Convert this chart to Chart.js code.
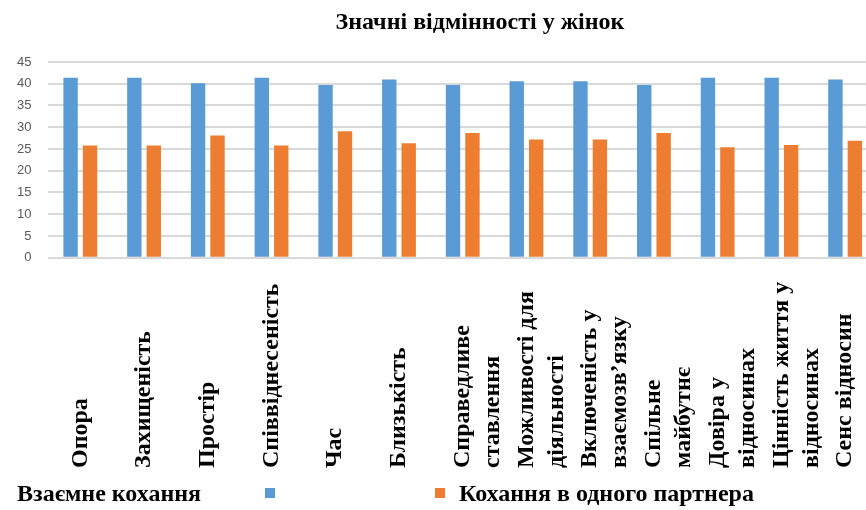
<!DOCTYPE html>
<html>
<head>
<meta charset="utf-8">
<script src="https://cdn.jsdelivr.net/npm/chart.js@4/dist/chart.umd.min.js"></script>
<style>
  html, body { margin: 0; padding: 0; background: #fff; overflow: hidden; width: 866px; height: 510px; }
  #wrap { position: relative; width: 866px; height: 510px; overflow: hidden; }
  #c { position: absolute; left: 0; top: 0; }
  .serif { font-family: 'Liberation Serif', 'Times New Roman', serif; font-weight: bold; color: #000; font-size: 24px; position: absolute; white-space: nowrap; line-height: 1; }
  #title { left: 0; width: 960px; text-align: center; top: 9px; }
  .sw { position: absolute; width: 10px; height: 10px; }
</style>
</head>
<body>
<div id="wrap">
  <canvas id="c" width="900" height="510" style="width:900px;height:510px"></canvas>
  <div id="title" class="serif"></div>
  <div id="leg1" class="serif" style="left:17px;top:481px"></div>
  <div class="sw" id="sw1" style="left:265px;top:488px"></div>
  <div class="sw" id="sw2" style="left:435px;top:488px"></div>
  <div id="leg2" class="serif" style="left:459px;top:481px"></div>
</div>
<script>
const chartTitle = 'Значні відмінності у жінок';
const categories = [
  'Опора',
  'Захищеність',
  'Простір',
  'Співвіднесеність',
  'Час',
  'Близькість',
  ['Справедливе', 'ставлення'],
  ['Можливості для', 'діяльності'],
  ['Включеність у', 'взаємозв\u2019язку'],
  ['Спільне', 'майбутнє'],
  ['Довіра у', 'відносинах'],
  ['Цінність життя у', 'відносинах'],
  'Сенс відносин'
];
const seriesNames = ['Взаємне кохання', 'Кохання в одного партнера'];
const mutualLove = [41.4, 41.4, 40.1, 41.4, 39.7, 41.0, 39.7, 40.6, 40.6, 39.7, 41.4, 41.4, 41.0];
const oneSidedLove = [25.8, 25.8, 28.1, 25.8, 29.1, 26.3, 28.7, 27.2, 27.2, 28.7, 25.4, 25.9, 26.9];
const yTicks = [0, 5, 10, 15, 20, 25, 30, 35, 40, 45];
const seriesColors = ['#5B9BD5', '#ED7D31'];

document.getElementById('title').textContent = chartTitle;
document.getElementById('leg1').textContent = seriesNames[0];
document.getElementById('leg2').textContent = seriesNames[1];
document.getElementById('sw1').style.background = seriesColors[0];
document.getElementById('sw2').style.background = seriesColors[1];

// Category scale whose rotated labels start at the bottom (Excel style)
class BottomCategoryScale extends Chart.CategoryScale {
  fit() {
    this.maxHeight = Math.max(this.maxHeight, 300);
    super.fit();
    this.paddingLeft = 0;
    this.paddingRight = 0;
  }
  _computeLabelItems(chartArea) {
    const items = super._computeLabelItems(chartArea);
    for (const it of items) {
      it.options.textAlign = 'left';
      it.options.translation = [it.options.translation[0], this.bottom];
    }
    return items;
  }
}
BottomCategoryScale.id = 'bottomCategory';
BottomCategoryScale.defaults = Chart.CategoryScale.defaults;
Chart.register(BottomCategoryScale);

new Chart(document.getElementById('c'), {
  type: 'bar',
  data: {
    labels: categories,
    datasets: [
      { label: seriesNames[0], data: mutualLove, backgroundColor: seriesColors[0] },
      { label: seriesNames[1], data: oneSidedLove, backgroundColor: seriesColors[1] }
    ]
  },
  options: {
    responsive: false,
    animation: false,
    devicePixelRatio: 1,
    layout: { padding: { left: 0, right: 23, top: 62, bottom: 42 } },
    datasets: { bar: { categoryPercentage: 0.61, barPercentage: 0.74 } },
    plugins: { legend: { display: false }, title: { display: false }, tooltip: { enabled: false } },
    scales: {
      x: {
        type: 'bottomCategory',
        grid: { display: false, drawTicks: false },
        border: { display: false },
        ticks: {
          autoSkip: false, minRotation: 90, maxRotation: 90, padding: 12,
          color: '#000',
          font: { family: "'Liberation Serif', 'Times New Roman', serif", size: 24, weight: 'bold', lineHeight: 1.25 }
        }
      },
      y: {
        min: 0, max: 45,
        afterBuildTicks: (s) => { s.ticks = yTicks.map(v => ({ value: v })); },
        grid: { color: '#d9d9d9', lineWidth: 2, drawTicks: false },
        border: { display: false },
        ticks: { padding: 17, color: '#595959', font: { family: "'Liberation Sans', Arial, sans-serif", size: 13 } }
      }
    }
  }
});
</script>
</body>
</html>
